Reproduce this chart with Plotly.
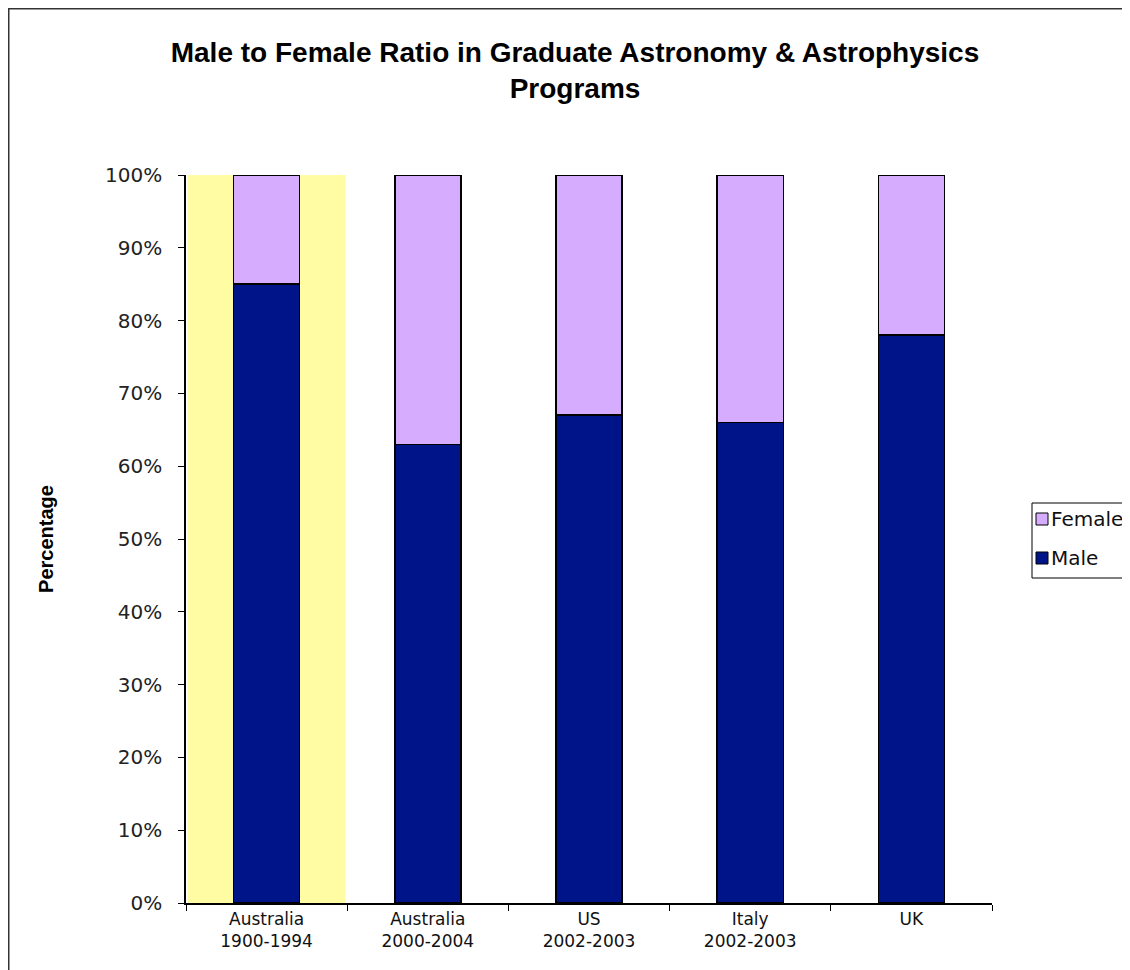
import plotly.graph_objects as go

categories = ["Australia<br>1900-1994", "Australia<br>2000-2004", "US<br>2002-2003", "Italy<br>2002-2003", "UK"]
male = [85, 63, 67, 66, 78]
female = [15, 37, 33, 34, 22]
series_names = ["Female", "Male"]

FONT = "Liberation Sans, Arial, sans-serif"
TICKFONT = "DejaVu Sans, Verdana, sans-serif"
MALE_C = "#00148A"
FEMALE_C = "#D6ACFF"

# figure is rendered with an 8px page offset; coordinates below are figure pixels
W, H = 1122, 962
PL, PR, PT, PB = 178, 984, 167, 895
pw, ph = PR - PL, PB - PT


def px(fx):
    return (fx - PL) / pw


def py(fy):
    return (PB - fy) / ph


fig = go.Figure()
fig.add_trace(go.Bar(x=categories, y=male, name="Male", showlegend=False,
                     marker=dict(color=MALE_C, line=dict(color="#000000", width=1.5)), width=0.41))
fig.add_trace(go.Bar(x=categories, y=female, name="Female", showlegend=False,
                     marker=dict(color=FEMALE_C, line=dict(color="#000000", width=1.5)), width=0.41))

fig.update_layout(
    width=W, height=H,
    barmode="stack",
    paper_bgcolor="white", plot_bgcolor="white",
    margin=dict(l=PL, r=W - PR, t=PT, b=H - PB, autoexpand=False),
    font=dict(family=FONT, color="#222"),
    title=dict(text="<b>Male to Female Ratio in Graduate Astronomy & Astrophysics<br>Programs</b>",
               x=567 / W, xanchor="center", y=1 - 54 / H, yanchor="middle", yref="container",
               font=dict(size=28, family=FONT, color="#000")),
    showlegend=False,
)
fig.update_xaxes(showline=True, linecolor="#000", linewidth=1.5, ticks="outside", ticklen=6,
                 tickcolor="#000", tickson="boundaries", showgrid=False,
                 tickfont=dict(size=17, family=TICKFONT, color="#111"))
fig.update_yaxes(range=[0, 100], dtick=10, ticksuffix="%", showline=True, linecolor="#000",
                 linewidth=1.5, ticks="outside", ticklen=6, tickcolor="#000", showgrid=False,
                 zeroline=False, ticklabelstandoff=12,
                 tickfont=dict(size=20, family=TICKFONT, color="#222"),
                 title=dict(text="<b>Percentage</b>", font=dict(size=20, family=FONT, color="#000"), standoff=46))

# highlight behind first category
fig.add_shape(type="rect", xref="x", yref="y", x0=-0.49, x1=0.49, y0=0, y1=100,
              fillcolor="#FFFCA4", line=dict(width=0), layer="below")
# chart area frame
fig.add_shape(type="rect", xref="paper", yref="paper",
              x0=px(0.75), x1=px(W + 40), y0=py(H + 40), y1=py(0.75),
              line=dict(color="#333", width=1.5), fillcolor="rgba(0,0,0,0)", layer="above")

# legend (drawn manually so it sits, like the original, clipped at the right edge)
fig.add_shape(type="rect", xref="paper", yref="paper",
              x0=px(1024), x1=px(W + 20), y0=py(570), y1=py(495),
              line=dict(color="#000", width=1), fillcolor="white", layer="above")
legend_items = [(series_names[0], FEMALE_C, 511), (series_names[1], MALE_C, 550)]
for name, col, cy in legend_items:
    fig.add_shape(type="rect", xref="paper", yref="paper",
                  x0=px(1028), x1=px(1040), y0=py(cy + 6), y1=py(cy - 6),
                  line=dict(color="#000", width=1), fillcolor=col, layer="above")
    fig.add_annotation(text=name, xref="paper", yref="paper", x=px(1041), y=py(cy),
                       xanchor="left", yanchor="middle", showarrow=False,
                       font=dict(size=20, family=TICKFONT, color="#111"))

fig.write_html("out.html")
